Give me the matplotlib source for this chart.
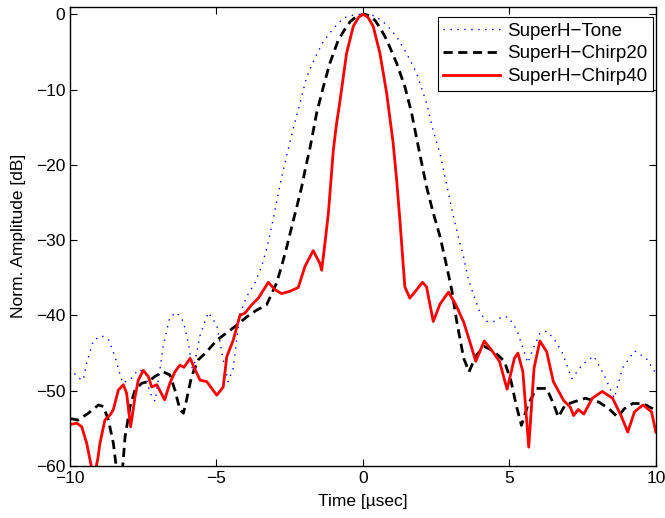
import numpy as np
import matplotlib
matplotlib.use("Agg")
import matplotlib.pyplot as plt

plt.rcParams["font.family"] = ["Liberation Sans", "DejaVu Sans"]

# SuperH-Tone (blue dotted)
tone_t = [-10, -9.72, -9.55, -9.43, -9.2, -8.92, -8.69, -8.46, -8.29, -8.2,
          -7.89, -7.67, -7.44, -7.27, -7.1, -6.93, -6.82, -6.59, -6.36, -6.13,
          -5.96, -5.81, -5.55, -5.28, -4.99, -4.77, -4.6, -4.43, -4.2, -3.97,
          -3.8, -3.69, -3.46, -3.27, -3.12, -3.0, -2.89, -2.77, -2.6, -2.4,
          -2.15, -1.92, -1.64, -1.35, -1.01, -0.67, -0.33, 0.0, 0.41, 0.81,
          1.15, 1.49, 1.83, 2.17, 2.4, 2.63, 2.91, 3.08, 3.25, 3.42,
          3.59, 3.76, 3.99, 4.22, 4.5, 4.73, 4.96, 5.25, 5.46, 5.63,
          5.8, 6.05, 6.27, 6.5, 6.79, 7.13, 7.5, 7.88, 8.23, 8.58,
          8.86, 9.27, 9.67, 10.0]
tone_db = [-47.0, -48.3, -48.6, -46.3, -43.3, -42.7, -43.2, -45.5, -47.9, -49.0,
           -48.3, -47.2, -47.5, -50.3, -51.4, -47.2, -44.1, -40.2, -39.6, -40.8,
           -43.7, -47.5, -42.5, -39.6, -41.3, -45.9, -48.8, -47.0, -39.8, -37.5,
           -36.4, -35.7, -33.5, -30.9, -28.2, -26.0, -23.8, -21.6, -18.7, -15.5,
           -11.8, -8.3, -5.8, -3.6, -1.9, -0.5, -0.1, 0.0, -0.2, -1.4,
           -3.0, -5.2, -7.8, -11.8, -15.5, -18.5, -23.6, -26.7, -29.5, -32.0,
           -35.1, -37.1, -39.6, -40.8, -40.8, -40.2, -40.2, -41.9, -44.3, -46.3,
           -44.5, -42.3, -42.1, -43.0, -44.8, -48.4, -46.5, -45.4, -47.9, -51.0,
           -47.0, -44.7, -45.7, -47.7]

# SuperH-Chirp20 (black dashed)
c20_t = [-10, -9.72, -9.38, -9.03, -8.86, -8.69, -8.52, -8.41, -8.3, -8.2,
         -8.12, -7.95, -7.78, -7.55, -7.33, -7.1, -6.82, -6.59, -6.42, -6.25,
         -6.13, -6.02, -5.85, -5.62, -5.33, -4.99, -4.65, -4.31, -3.97, -3.63,
         -3.29, -2.95, -2.78, -2.6, -2.43, -2.26, -2.09, -1.95, -1.81, -1.58,
         -1.35, -1.13, -0.84, -0.62, -0.44, -0.2, 0.05, 0.22, 0.41, 0.6,
         0.81, 1.15, 1.43, 1.66,
         1.89, 2.17, 2.4, 2.63, 2.86, 3.03, 3.21, 3.44, 3.62, 3.85,
         4.14, 4.48, 4.83, 5.06, 5.23, 5.41, 5.63, 5.92, 6.27, 6.5,
         6.67, 6.9, 7.19, 7.59, 8.05, 8.4, 8.69, 8.92, 9.21, 9.56,
         9.9, 10.0]
c20_db = [-53.7, -53.9, -53.0, -51.9, -52.1, -53.9, -57.0, -60.5, -61.5, -60.0,
          -56.1, -52.1, -49.9, -49.0, -48.8, -48.1, -47.5, -47.9, -49.9, -52.5,
          -53.0, -51.2, -48.1, -45.9, -44.8, -43.3, -42.3, -41.3, -40.2, -39.3,
          -38.6, -35.7, -33.5, -30.9, -28.2, -25.6, -22.9, -20.2, -17.8, -13.1,
          -9.6, -6.5, -3.4, -2.0, -1.0, -0.2, 0.0, -0.2, -0.8, -1.9,
          -3.4, -6.5, -9.6, -13.1,
          -17.6, -22.9, -26.4, -29.5, -33.5, -36.6, -41.0, -45.7, -47.5, -45.4,
          -44.1, -44.8, -46.1, -48.8, -51.9, -54.6, -51.9, -49.7, -49.7, -51.7,
          -53.5, -51.9, -51.5, -51.0, -51.5, -52.4, -53.5, -52.4, -51.7, -51.7,
          -52.4, -52.8]

# SuperH-Chirp40 (red solid)
c40_t = [-10, -9.77, -9.6, -9.43, -9.26, -9.15, -9.05, -8.98, -8.81, -8.63,
         -8.52, -8.35, -8.18, -8.07, -7.93, -7.78, -7.67, -7.5, -7.33, -7.21,
         -7.04, -6.77, -6.59, -6.42, -6.25, -6.11, -5.9, -5.73, -5.56, -5.33,
         -4.99, -4.77, -4.65, -4.43, -4.2, -4.03, -3.8, -3.57, -3.23, -3.0,
         -2.78, -2.5, -2.21, -1.98, -1.7, -1.47, -1.41, -1.3, -1.18, -1.01,
         -0.9, -0.78, -0.56, -0.33, -0.15, 0.01, 0.17, 0.35, 0.58, 0.81,
         0.92, 1.03, 1.15, 1.26, 1.43, 1.6,
         1.83, 2.03, 2.17, 2.4, 2.63, 2.92, 3.16, 3.44, 3.68, 3.85,
         4.14, 4.37, 4.66, 4.92, 5.17, 5.29, 5.46, 5.66, 5.84, 6.04,
         6.27, 6.5, 6.85, 7.08, 7.19, 7.35, 7.54, 7.83, 8.17, 8.52,
         8.81, 9.04, 9.27, 9.56, 9.85, 10.0]
c40_db = [-54.5, -54.3, -54.8, -57.0, -60.3, -61.0, -59.0, -57.0, -53.9, -53.2,
          -52.5, -49.9, -49.2, -50.3, -54.8, -50.8, -48.6, -47.3, -48.1, -49.5,
          -49.2, -51.2, -49.0, -47.5, -46.6, -46.9, -45.7, -47.2, -48.6, -48.8,
          -50.6, -49.5, -45.5, -43.3, -40.0, -39.7, -38.6, -37.7, -35.6, -36.6,
          -37.1, -36.8, -36.3, -33.5, -31.4, -33.1, -34.0, -30.5, -26.4, -18.0,
          -14.5, -11.4, -5.2, -1.6, -0.4, 0.0, -0.4, -1.6, -5.2, -10.5,
          -13.8, -17.1, -22.0, -27.3, -36.2, -37.7,
          -36.6, -35.6, -36.2, -40.8, -38.5, -36.9, -38.5, -40.9, -43.9, -46.1,
          -43.4, -44.5, -46.1, -49.8, -45.7, -45.0, -47.5, -57.5, -47.0, -43.4,
          -44.8, -48.8, -51.3, -52.2, -53.3, -52.5, -53.1, -51.0, -50.1, -51.0,
          -53.3, -55.5, -52.8, -51.9, -52.8, -55.5]

fig = plt.figure(figsize=(6.65, 5.18), dpi=100)
ax = fig.add_axes([0.1053, 0.1004, 0.881, 0.8866])

ax.plot(tone_t, tone_db, color="blue", lw=1.0, linestyle=(0, (1, 4)),
        label="SuperH\u2212Tone")
ax.plot(c20_t, c20_db, color="black", lw=2.0, linestyle=(0, (3.3, 2.0)),
        label="SuperH\u2212Chirp20")
ax.plot(c40_t, c40_db, color="red", lw=2.0, label="SuperH\u2212Chirp40")

ax.set_xlim(-10, 10)
ax.set_ylim(-60, 1)
ax.set_xticks([-10, -5, 0, 5, 10])
ax.set_yticks([0, -10, -20, -30, -40, -50, -60])
ax.tick_params(direction="in", top=True, right=True, length=5,
               labelsize=12.5, width=0.8)
for s in ax.spines.values():
    s.set_linewidth(1.0)

ax.set_xlabel("Time [\u00b5sec]", fontsize=12.5, labelpad=6)
ax.set_ylabel("Norm. Amplitude [dB]", fontsize=12.5, labelpad=7)

leg = ax.legend(loc="upper right", bbox_to_anchor=(0.995, 0.978),
                fontsize=13.5, fancybox=False, edgecolor="black",
                framealpha=1, borderaxespad=0, handlelength=3.0,
                handletextpad=0.4, labelspacing=0.3, borderpad=0.3)
leg.get_frame().set_linewidth(0.8)

fig.savefig("out.png", dpi=100)
